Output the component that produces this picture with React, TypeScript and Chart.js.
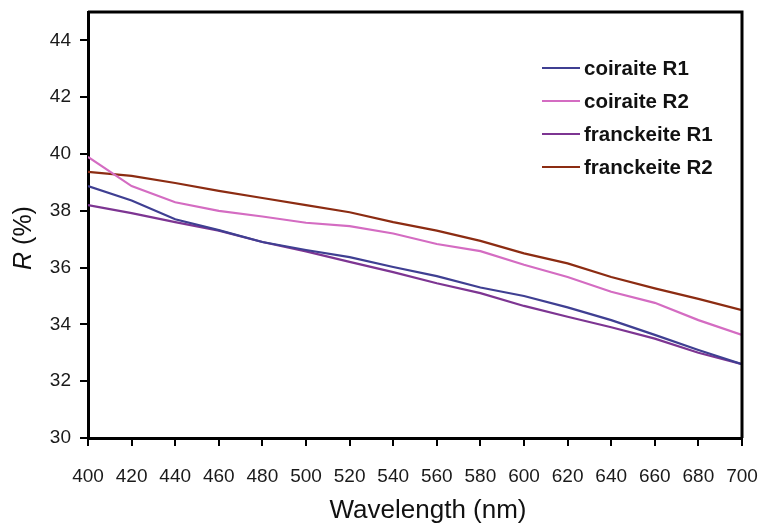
import React, { useEffect, useRef } from "react";
import { Chart, registerables } from "chart.js";

Chart.register(...registerables);

const wavelengths = [400, 420, 440, 460, 480, 500, 520, 540, 560, 580, 600, 620, 640, 660, 680, 700];
const coiraiteR1 = [38.87, 38.36, 37.7, 37.32, 36.9, 36.62, 36.37, 36.02, 35.7, 35.3, 35.0, 34.6, 34.15, 33.63, 33.1, 32.6];
const coiraiteR2 = [39.9, 38.87, 38.3, 38.0, 37.8, 37.58, 37.46, 37.2, 36.83, 36.58, 36.1, 35.67, 35.15, 34.76, 34.15, 33.63];
const francheiteR1 = [38.2, 37.92, 37.6, 37.3, 36.9, 36.57, 36.2, 35.84, 35.45, 35.1, 34.65, 34.27, 33.9, 33.5, 33.0, 32.6];
const francheiteR2 = [39.37, 39.23, 38.98, 38.7, 38.45, 38.2, 37.95, 37.6, 37.3, 36.94, 36.5, 36.15, 35.67, 35.27, 34.9, 34.5];

const seriesNames = ["coiraite R1", "coiraite R2", "franckeite R1", "franckeite R2"];
const seriesColors = ["#3f3f92", "#d46cc2", "#7d3592", "#8c2c12"];
const seriesValues = [coiraiteR1, coiraiteR2, francheiteR1, francheiteR2];

const xTitle = "Wavelength (nm)";

const FONT = "'Liberation Sans', Arial, sans-serif";

const framePlugin = {
  id: "frameAndTitles",
  afterDraw(chart: any) {
    const { ctx, chartArea } = chart;
    ctx.save();
    // top and right frame
    ctx.strokeStyle = "#000";
    ctx.lineWidth = 3;
    ctx.beginPath();
    ctx.moveTo(chartArea.left, chartArea.top);
    ctx.lineTo(chartArea.right, chartArea.top);
    ctx.lineTo(chartArea.right, chartArea.bottom);
    ctx.stroke();

    // legend inside the plot
    const lx = chartArea.right - 200;
    const ly0 = chartArea.top + 56;
    const step = 33;
    ctx.font = `bold 20.5px ${FONT}`;
    ctx.textBaseline = "middle";
    ctx.textAlign = "left";
    chart.data.datasets.forEach((ds: any, i: number) => {
      const y = ly0 + i * step;
      ctx.strokeStyle = ds.borderColor;
      ctx.lineWidth = 2.2;
      ctx.beginPath();
      ctx.moveTo(lx, y);
      ctx.lineTo(lx + 38, y);
      ctx.stroke();
      ctx.fillStyle = "#111";
      ctx.fillText(ds.label, lx + 42, y + 1);
    });

    // x axis title
    ctx.font = `26px ${FONT}`;
    ctx.textAlign = "center";
    ctx.textBaseline = "alphabetic";
    ctx.fillStyle = "#111";
    ctx.fillText(xTitle, (chartArea.left + chartArea.right) / 2 + 13, chartArea.bottom + 80);

    // y axis title: italic R + (%)
    const cx = 24;
    const cy = (chartArea.top + chartArea.bottom) / 2 + 13;
    ctx.translate(cx, cy);
    ctx.rotate(-Math.PI / 2);
    ctx.textAlign = "left";
    ctx.textBaseline = "middle";
    const italicFont = `italic 25px ${FONT}`;
    const normalFont = `25px ${FONT}`;
    ctx.font = italicFont;
    const w1 = ctx.measureText("R").width;
    ctx.font = normalFont;
    const w2 = ctx.measureText(" (%)").width;
    const start = -(w1 + w2) / 2;
    ctx.font = italicFont;
    ctx.fillText("R", start, 0);
    ctx.font = normalFont;
    ctx.fillText(" (%)", start + w1, 0);
    ctx.restore();
  },
};

export default function App() {
  const ref = useRef<HTMLCanvasElement | null>(null);
  useEffect(() => {
    if (!ref.current) return;
    const chart = new Chart(ref.current, {
      type: "line",
      data: {
        datasets: seriesValues.map((vals, i) => ({
          label: seriesNames[i],
          data: vals.map((v, j) => ({ x: wavelengths[j], y: v })),
          borderColor: seriesColors[i],
          backgroundColor: seriesColors[i],
          borderWidth: 2.2,
          pointRadius: 0,
          tension: 0,
          fill: false,
        })),
      },
      options: {
        animation: false,
        responsive: true,
        maintainAspectRatio: false,
        layout: { padding: { top: 12, right: 21, left: 0, bottom: 0 } },
        plugins: { legend: { display: false }, tooltip: { enabled: false } },
        scales: {
          x: {
            type: "linear",
            min: 400,
            max: 700,
            afterFit: (s: any) => {
              s.height = 87;
              s.paddingLeft = 0;
              s.paddingRight = 0;
            },
            ticks: {
              stepSize: 20,
              includeBounds: false,
              color: "#1a1a1a",
              font: { family: FONT, size: 19 },
              padding: 19,
              maxRotation: 0,
              autoSkip: false,
            },
            grid: { drawOnChartArea: false, drawTicks: true, tickLength: 8, color: "#000", lineWidth: 2 },
            border: { display: true, color: "#000", width: 3 },
            title: { display: false },
          },
          y: {
            type: "linear",
            min: 30,
            max: 45,
            afterFit: (s: any) => {
              s.width = 88;
              s.paddingTop = 0;
              s.paddingBottom = 0;
            },
            ticks: {
              stepSize: 2,
              includeBounds: false,
              color: "#1a1a1a",
              font: { family: FONT, size: 19 },
              padding: 9,
            },
            grid: { drawOnChartArea: false, drawTicks: true, tickLength: 8, color: "#000", lineWidth: 2 },
            border: { display: true, color: "#000", width: 3 },
          },
        },
      },
      plugins: [framePlugin],
    });
    return () => chart.destroy();
  }, []);
  return (
    <div style={{ position: "absolute", left: 0, top: 0, width: 763, height: 525, background: "#fff" }}>
      <canvas ref={ref} />
    </div>
  );
}
